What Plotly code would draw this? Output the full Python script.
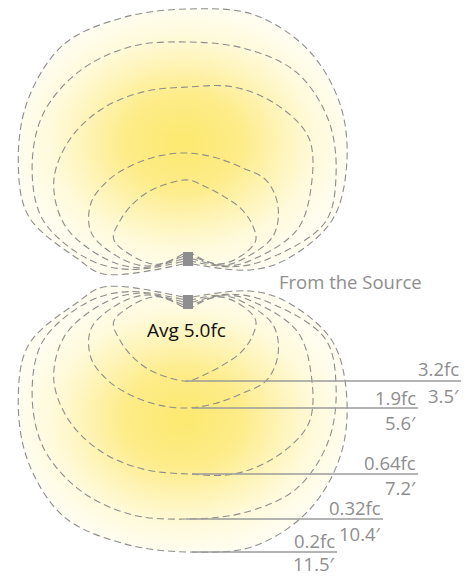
import numpy as np
import plotly.graph_objects as go

# ---- data: reach of each iso-footcandle contour (drawing units) by angle from straight down ----
angles_deg = [-100, -90, -75, -60, -45, -30, -15, 0, 15, 30, 45, 60, 75, 90, 100]
reach_3_2fc = [30, 50, 77, 78, 78, 78, 78, 79, 74, 72, 73, 73, 70, 48, 28]
reach_1_9fc = [40, 66, 100, 112, 112, 109, 107, 106, 105, 106, 111, 104, 88, 55, 35]
reach_0_64fc = [50, 82, 127, 155, 168, 173, 173, 172, 178, 178, 171, 142, 113, 66, 40]
reach_0_32fc = [60, 100, 150, 180, 205, 217, 220, 217, 218, 216, 198, 171, 142, 80, 45]
reach_0_2fc = [86, 110, 165, 196, 226, 248, 250, 250, 253, 241, 216, 183, 149, 99, 63]

fc_labels = ["3.2fc", "1.9fc", "0.64fc", "0.32fc", "0.2fc"]
distance_labels = ["3.5\u2032", "5.6\u2032", "7.2\u2032", "10.4\u2032", "11.5\u2032"]
avg_label = "Avg 5.0fc"
source_label = "From the Source"

contours = [reach_3_2fc, reach_1_9fc, reach_0_64fc, reach_0_32fc, reach_0_2fc]

# ---- layout constants ----
W, H = 473, 577
SRC_X = 188
SRC_HALF_W = 5
LOWER_Y = 302
UPPER_Y = 259
label_right = [461, 418, 418, 383, 337]
line_start = [186, 192, 192, 186, 192]
fc_offset = [-13, -11, -12, -12, -12]
dist_offset = [14, 14, 13, 14, 11]

DASH_COLOR = "#8d8d8d"
TEXT_GRAY = "#8e8e8e"
FONT = "Open Sans"
LABEL_SIZE = 18.5


def contour_xy(reach, origin_y, direction, level):
    th = np.radians(angles_deg)
    r = np.array(reach, dtype=float)
    x = SRC_X + r * np.sin(th)
    y = origin_y + direction * r * np.cos(th)
    # contours meet the fixture at staggered heights along its sides
    end_y = origin_y + direction * (5 - 2.5 * level)
    x = np.concatenate([[SRC_X - SRC_HALF_W], x, [SRC_X + SRC_HALF_W]])
    y = np.concatenate([[end_y], y, [end_y]])
    return x, y


fig = go.Figure()

gradient = dict(
    type="radial",
    colorscale=[[0.0, "#fce970"], [0.35, "#fdec88"], [0.6, "#fef4b8"],
                [0.8, "#fffadb"], [1.0, "#fffdef"]],
)

# fills
for oy, d in [(UPPER_Y, -1), (LOWER_Y, 1)]:
    x, y = contour_xy(reach_0_2fc, oy, d, 4)
    fig.add_trace(go.Scatter(x=x, y=y, mode="lines", fill="toself",
                             fillgradient=gradient, line=dict(width=0, shape="spline"),
                             hoverinfo="skip", showlegend=False))

# dashed contours
for lvl, reach in enumerate(contours):
    for oy, d in [(UPPER_Y, -1), (LOWER_Y, 1)]:
        x, y = contour_xy(reach, oy, d, lvl)
        fig.add_trace(go.Scatter(x=x, y=y, mode="lines",
                                 line=dict(color=DASH_COLOR, width=1.1, dash="7px,4px",
                                           shape="spline", smoothing=1.0),
                                 hoverinfo="skip", showlegend=False))

# leader lines and labels
annotations = []
for i, reach in enumerate(contours):
    yv = LOWER_Y + reach[angles_deg.index(0)]
    fig.add_trace(go.Scatter(x=[line_start[i], label_right[i]], y=[yv, yv], mode="lines",
                             line=dict(color="#9b9b9b", width=1.3),
                             hoverinfo="skip", showlegend=False))
    annotations.append(dict(x=label_right[i], y=yv + fc_offset[i], text=fc_labels[i],
                            xanchor="right", yanchor="middle", showarrow=False,
                            font=dict(family=FONT, size=LABEL_SIZE, color=TEXT_GRAY)))
    annotations.append(dict(x=label_right[i], y=yv + dist_offset[i], text=distance_labels[i],
                            xanchor="right", yanchor="middle", showarrow=False,
                            font=dict(family=FONT, size=LABEL_SIZE, color=TEXT_GRAY)))

annotations.append(dict(x=277, y=281, text=source_label, xanchor="left", yanchor="middle",
                        showarrow=False, font=dict(family=FONT, size=18.5, color=TEXT_GRAY)))
annotations.append(dict(x=186, y=330, text=avg_label, xanchor="center", yanchor="middle",
                        showarrow=False, font=dict(family=FONT, size=19, color="#111111")))

shapes = []
for cy in [UPPER_Y, LOWER_Y]:
    shapes.append(dict(type="rect", xref="x", yref="y", x0=SRC_X - SRC_HALF_W,
                       x1=SRC_X + SRC_HALF_W, y0=cy - 7, y1=cy + 7, fillcolor="#8e8e90",
                       line=dict(width=0), layer="above"))

fig.update_layout(
    width=W, height=H, margin=dict(l=0, r=0, t=0, b=0),
    paper_bgcolor="white", plot_bgcolor="white",
    xaxis=dict(range=[0, W], visible=False, fixedrange=True),
    yaxis=dict(range=[H, 0], visible=False, fixedrange=True),
    annotations=annotations, shapes=shapes, showlegend=False,
)

fig.write_html("out.html", config={"displayModeBar": False},
               post_script="document.body.style.margin='0';document.body.style.overflow='hidden';")
